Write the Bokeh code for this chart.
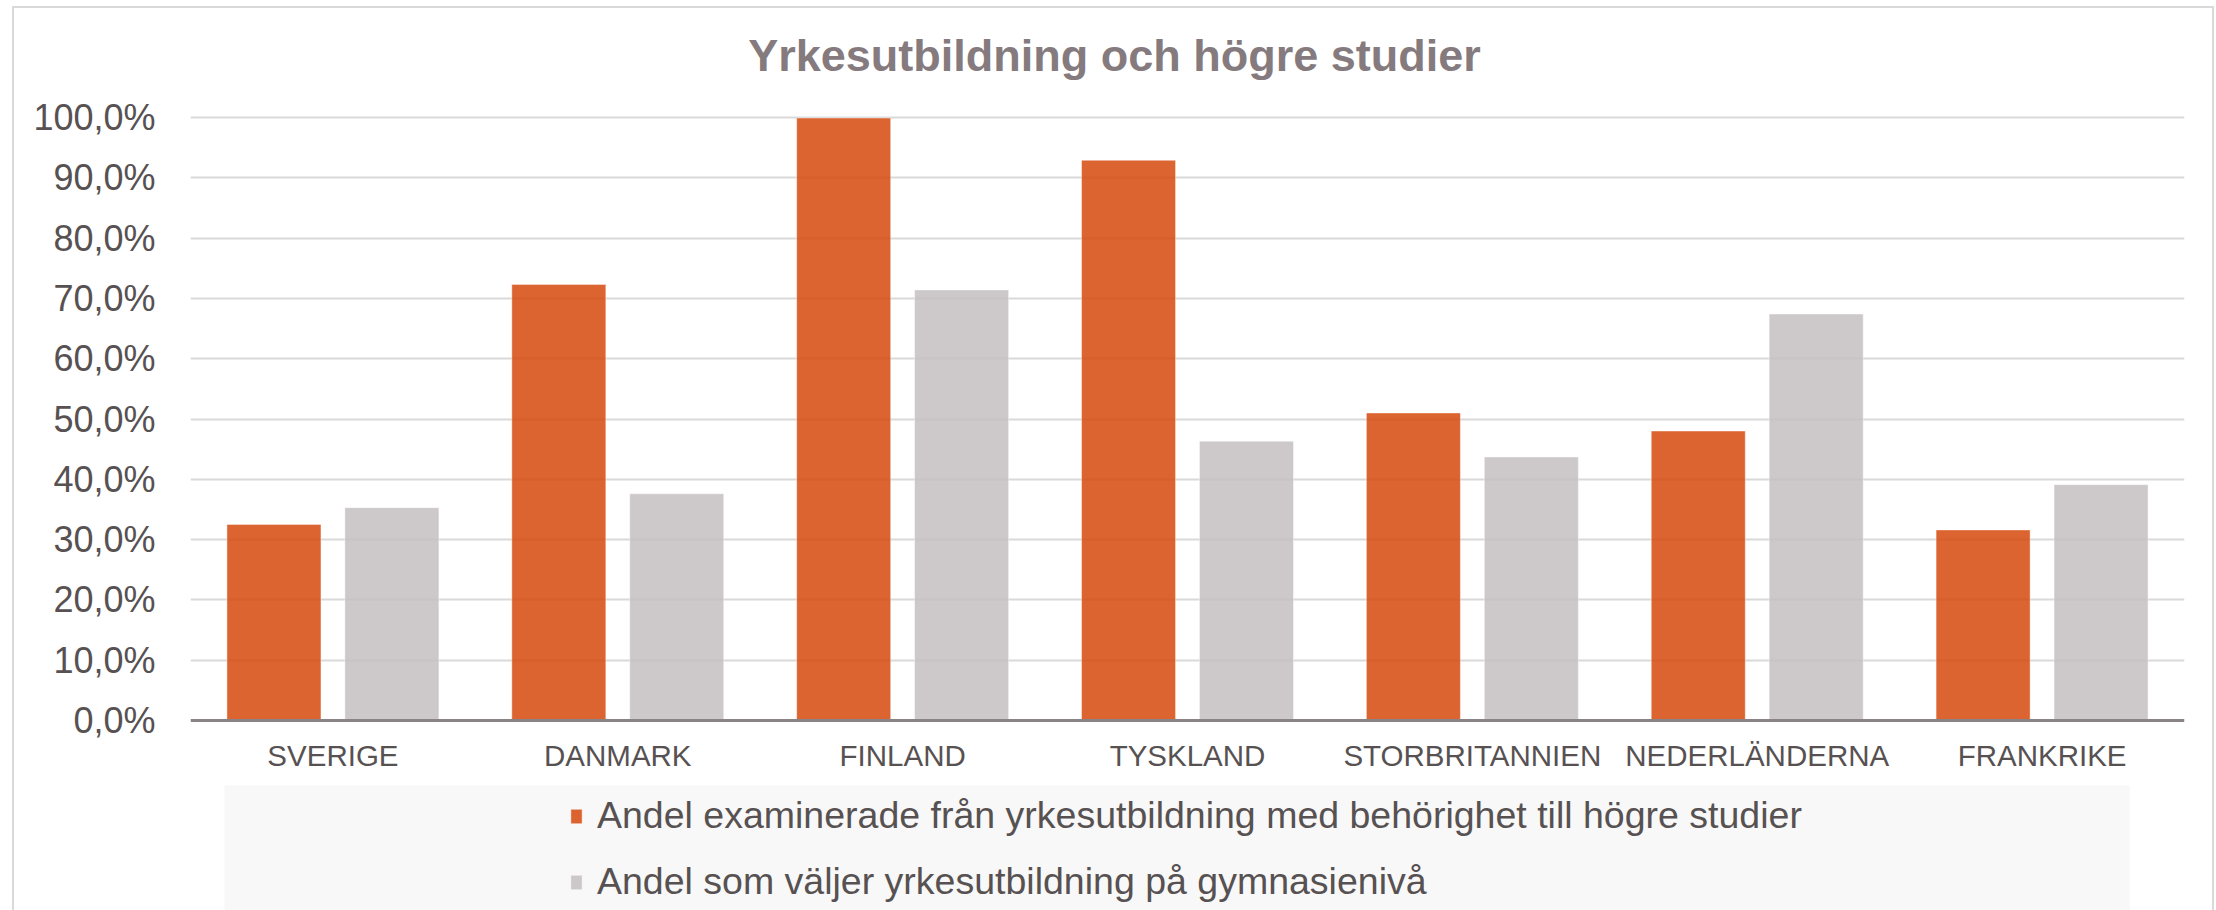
from bokeh.plotting import figure
from bokeh.models import (FactorRange, Range1d, FixedTicker, Span, Legend, LegendItem,
                          ColumnDataSource)
from bokeh.transform import dodge
from bokeh.core.properties import value
from bokeh.embed import file_html
from bokeh.resources import INLINE

# ---------------- data ----------------
TITLE = "Yrkesutbildning och högre studier"
COUNTRIES = ["SVERIGE", "DANMARK", "FINLAND", "TYSKLAND", "STORBRITANNIEN",
             "NEDERLÄNDERNA", "FRANKRIKE"]
SERIES_NAMES = ["Andel examinerade från yrkesutbildning med behörighet till högre studier",
                "Andel som väljer yrkesutbildning på gymnasienivå"]
EXAMINERADE = [32.5, 72.3, 99.9, 92.9, 51.0, 48.0, 31.6]
VALJER = [35.3, 37.6, 71.4, 46.3, 43.7, 67.4, 39.1]
Y_TICKS = [0, 10, 20, 30, 40, 50, 60, 70, 80, 90, 100]
Y_TICK_LABELS = ["0,0%", "10,0%", "20,0%", "30,0%", "40,0%", "50,0%",
                 "60,0%", "70,0%", "80,0%", "90,0%", "100,0%"]

# ---------------- layout (pixels, canvas = page) ----------------
W, H = 2216, 910
FRAME_L, FRAME_R = 190, 2184
Y0_PX, Y100_PX = 720, 117
PX_PER_UNIT = (Y0_PX - Y100_PX) / 100.0
CAT_W = (FRAME_R - FRAME_L) / len(COUNTRIES)


def px_x(px):
    return (px - FRAME_L) / CAT_W


def px_y(py):
    return (Y0_PX - py) / PX_PER_UNIT


FONT = value("Liberation Sans")
TEXT_COL = "#575152"
ORANGE = "#D6490C"
GRAY = "#C4BFC1"
BORDER = "#d9d9d9"

src = ColumnDataSource(dict(country=COUNTRIES, a=EXAMINERADE, b=VALJER))

p = figure(width=W, height=H,
           x_range=FactorRange(factors=COUNTRIES, range_padding=0),
           y_range=Range1d(px_y(H), px_y(0)),
           output_backend="svg", toolbar_location=None,
           min_border_left=FRAME_L, min_border_right=W - FRAME_R,
           min_border_top=0, min_border_bottom=0)
p.outline_line_color = None
p.background_fill_color = None
p.border_fill_color = None
grad = f"linear-gradient({BORDER},{BORDER})"
p.styles = {
    "background-image": f"{grad}, {grad}, {grad}",
    "background-position": "12px 6px, 12px 6px, 2212px 6px",
    "background-size": "2px 100%, 2202px 2px, 2px 100%",
    "background-repeat": "no-repeat",
}

# legend background panel
p.quad(left=[px_x(224)], right=[px_x(2129)], top=[px_y(785)], bottom=[px_y(H + 5)],
       fill_color="#f8f8f8", line_color=None)

# grid
p.xgrid.visible = False
p.ygrid.ticker = FixedTicker(ticks=Y_TICKS[1:])
p.ygrid.grid_line_color = "#d9d9d9"
p.ygrid.grid_line_width = 2

# bars
r1 = p.vbar(x=dodge("country", -0.207, range=p.x_range), top="a", bottom=0, width=0.33,
            source=src, fill_color=ORANGE, fill_alpha=0.85,
            line_color="#ffffff", line_alpha=0.4, line_width=1)
r2 = p.vbar(x=dodge("country", 0.207, range=p.x_range), top="b", bottom=0, width=0.33,
            source=src, fill_color=GRAY, fill_alpha=0.85,
            line_color="#ffffff", line_alpha=0.4, line_width=1)

# baseline axis
p.add_layout(Span(location=0, dimension="width", line_color="#8a8385", line_width=3))

# y axis
p.yaxis.ticker = FixedTicker(ticks=Y_TICKS)
p.yaxis.major_label_overrides = dict(zip(Y_TICKS, Y_TICK_LABELS))
p.yaxis.axis_line_color = None
p.yaxis.major_tick_line_color = None
p.yaxis.minor_tick_line_color = None
p.yaxis.major_tick_out = 0
p.yaxis.major_tick_in = 0
p.yaxis.major_label_standoff = 35
p.yaxis.major_label_text_font = "Liberation Sans"
p.yaxis.major_label_text_font_size = "36px"
p.yaxis.major_label_text_color = TEXT_COL

# x axis: category labels under the baseline
p.xaxis.visible = False
p.text(x="country", y=px_y(755), text="country", source=src,
       text_align="center", text_baseline="alphabetic",
       text_font=FONT, text_font_size="29.5px", text_color=TEXT_COL)

# title
p.text(x=[px_x(1114)], y=[px_y(55)], text=[TITLE], text_align="center",
       text_baseline="alphabetic", text_font=FONT, text_font_size="45px",
       text_font_style="bold", text_color="#857b7e")

legend = Legend(items=[LegendItem(label=SERIES_NAMES[0], renderers=[r1]),
                       LegendItem(label=SERIES_NAMES[1], renderers=[r2])],
                location=(569 - FRAME_L, 7), orientation="vertical",
                glyph_width=14, glyph_height=18, label_standoff=14,
                spacing=23, padding=0, margin=0,
                background_fill_alpha=0, border_line_color=None,
                label_text_font="Liberation Sans", label_text_font_size="37.5px",
                label_text_color=TEXT_COL)
p.add_layout(legend)

open("out.html", "w").write(file_html(p, INLINE))
